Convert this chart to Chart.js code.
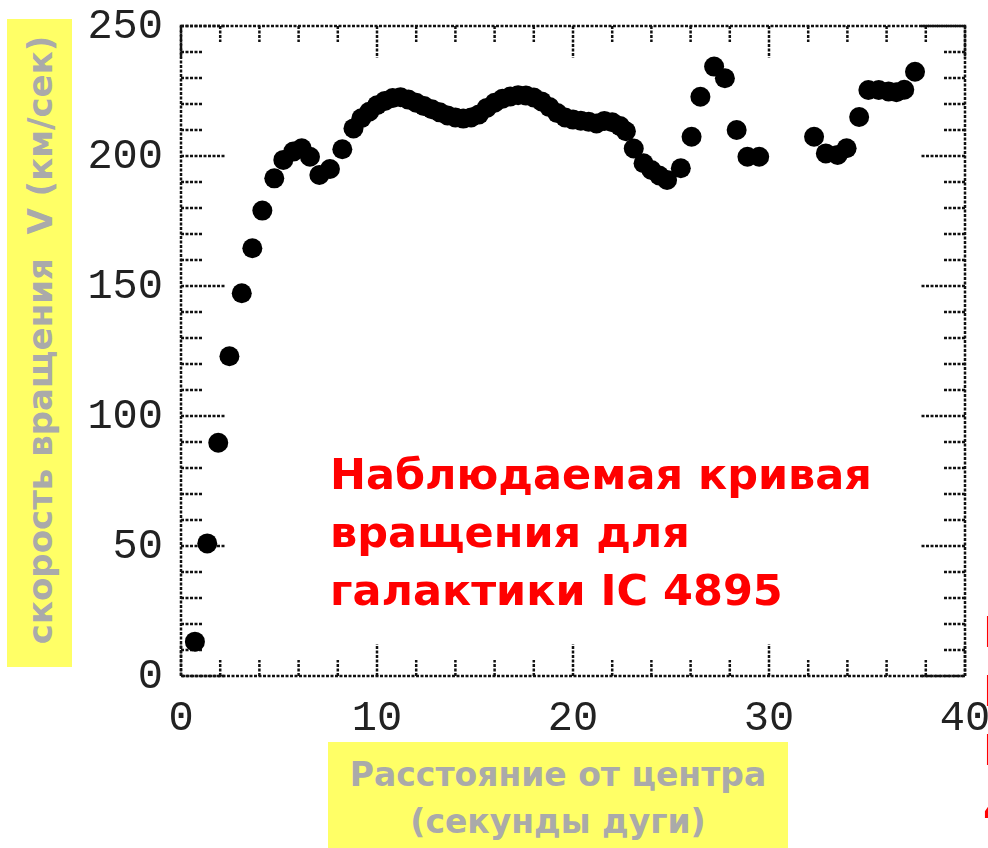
<!DOCTYPE html>
<html><head><meta charset="utf-8">
<script src="https://cdn.jsdelivr.net/npm/chart.js@4/dist/chart.umd.min.js"></script>
<style>
html,body{margin:0;padding:0;background:#fff;width:988px;height:848px;overflow:hidden;font-family:"DejaVu Sans",sans-serif;}
#c{position:absolute;left:0;top:0;}
.ybox{position:absolute;left:7px;top:19px;width:65px;height:648px;background:#ffff66;}
.ytitle{position:absolute;left:40px;top:340px;transform:translate(-50%,-50%) rotate(-90deg);white-space:nowrap;color:#aaaaaa;font-weight:bold;font-size:34px;}
.xbox{position:absolute;left:328px;top:742px;width:460px;height:106px;background:#ffff66;}
.xtitle{position:absolute;left:328px;top:751px;width:460px;text-align:center;color:#aaaaaa;font-weight:bold;font-size:33px;line-height:47px;white-space:nowrap;}
.red{position:absolute;left:330px;top:445px;color:#ff0000;font-weight:bold;font-size:43px;line-height:58px;white-space:nowrap;}
.redcut{position:absolute;left:983px;top:603px;color:#ff0000;font-weight:bold;font-size:43px;line-height:59px;white-space:nowrap;}
</style></head>
<body>
<canvas id="c" width="988" height="848"></canvas>
<div class="ybox"></div>
<div class="ytitle">скорость вращения&nbsp; V (км/сек)</div>
<div class="xbox"></div>
<div class="xtitle">Расстояние от центра<br>(секунды дуги)</div>
<div class="red">Наблюдаемая кривая<br>вращения для<br>галактики IC 4895</div>
<div class="redcut">Н<br>Н<br>Н<br>4</div>
<script>
// Radius (arcsec) and rotation velocity (km/s)
const radius = [0.71,1.34,1.9,2.47,3.1,3.64,4.15,4.76,5.22,5.73,6.16,6.58,7.06,7.6,8.23,8.8,
  9.2,9.6,10.0,10.4,10.8,11.2,11.6,12.0,12.4,12.8,13.2,13.6,14.0,14.4,14.8,15.2,15.6,16.0,16.4,16.8,
  17.2,17.6,18.0,18.4,18.8,19.2,19.6,20.0,20.4,20.8,21.2,21.6,22.0,22.4,22.7,
  23.1,23.6,24.0,24.4,24.8,25.5,26.05,26.5,27.2,27.75,28.35,28.9,29.5,
  32.3,32.9,33.5,33.96,34.6,35.07,35.6,36.1,36.5,36.9,37.45];
const velocity = [13.2,51,89.7,123,147.2,164.5,179,191.4,198.5,201.7,203,199.7,192.7,195,202.6,210.6,
  214.5,217,219.5,221.2,222.3,222.6,221.7,220.5,219.2,218,216.8,215.6,214.8,214.4,214.8,216,218.5,220.5,222,222.9,
  223.4,223.3,222.5,221,218.8,216.5,214.8,214,213.6,213.2,212.5,213.5,213,211.5,209.5,
  202.9,197.2,194.6,192.5,190.8,195.3,207.4,222.8,234.4,229.9,210,199.7,199.7,
  207.4,201,200.4,203,215,225.4,225.4,224.8,224.5,225.5,232.4];
const xTickLabels = [0,10,20,30,40];
const yTickLabels = [0,50,100,150,200,250];
const xMinorStep = 2, yMinorStep = 10;

const points = radius.map((r,i)=>({x:r, y:velocity[i]}));

const axesPlugin = {
  id:'idlAxes',
  beforeDatasetsDraw(chart){
    const ctx = chart.ctx, a = chart.chartArea;
    const xs = chart.scales.x, ys = chart.scales.y;
    ctx.save();
    ctx.strokeStyle = '#111';
    ctx.lineWidth = 2.5;
    ctx.setLineDash([3,1.5]);
    ctx.strokeRect(a.left, a.top, a.right-a.left, a.bottom-a.top);
    ctx.beginPath();
    for (let v = xs.min; v <= xs.max; v += xMinorStep) {
      const px = xs.getPixelForValue(v);
      const len = xTickLabels.includes(v) ? 32 : 16;
      ctx.moveTo(px, a.bottom); ctx.lineTo(px, a.bottom - len);
      ctx.moveTo(px, a.top); ctx.lineTo(px, a.top + len);
    }
    for (let v = ys.min; v <= ys.max; v += yMinorStep) {
      const py = ys.getPixelForValue(v);
      const len = yTickLabels.includes(v) ? 44 : 21;
      ctx.moveTo(a.left, py); ctx.lineTo(a.left + len, py);
      ctx.moveTo(a.right, py); ctx.lineTo(a.right - len, py);
    }
    ctx.stroke();
    ctx.setLineDash([]);
    ctx.fillStyle = '#222';
    ctx.font = '42px "Liberation Mono", monospace';
    ctx.textAlign = 'center'; ctx.textBaseline = 'middle';
    xTickLabels.forEach(v => ctx.fillText(String(v), xs.getPixelForValue(v), a.bottom + 43));
    ctx.textAlign = 'right';
    yTickLabels.forEach(v => ctx.fillText(String(v), a.left - 18, ys.getPixelForValue(v) + 1));
    ctx.restore();
  }
};

new Chart(document.getElementById('c'), {
  type:'scatter',
  data:{datasets:[{data:points, pointRadius:10, pointHoverRadius:10, pointBackgroundColor:'#000', pointBorderColor:'#000', pointBorderWidth:0, clip:false, showLine:false}]},
  options:{
    responsive:false, animation:false, devicePixelRatio:1,
    layout:{padding:{left:181, right:23, top:26, bottom:172}},
    plugins:{legend:{display:false}, tooltip:{enabled:false}},
    scales:{
      x:{type:'linear', min:0, max:40, display:false},
      y:{type:'linear', min:0, max:250, display:false}
    }
  },
  plugins:[axesPlugin]
});
</script>
</body></html>
